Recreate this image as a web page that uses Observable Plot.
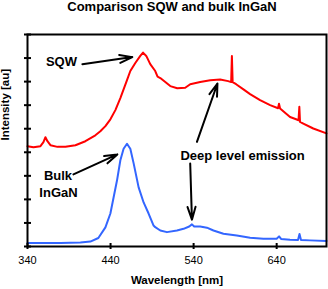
<!DOCTYPE html>
<html>
<head>
<meta charset="utf-8">
<script src="https://cdn.jsdelivr.net/npm/d3@7"></script>
<script src="https://cdn.jsdelivr.net/npm/@observablehq/plot@0.6"></script>
<style>
  html, body { margin: 0; padding: 0; background: #fff; }
  #wrap { width: 328px; height: 289px; overflow: hidden; font-family: "Liberation Sans", Arial, sans-serif; }
  #title { height: 16px; line-height: 13px; font-size: 13px; font-weight: bold; text-align: center; padding-left: 16px; box-sizing: border-box; color: #000; }
</style>
</head>
<body>
<div id="wrap">
  <div id="title">Comparison SQW and bulk InGaN</div>
  <div id="chart"></div>
</div>
<script>
// SQW spectrum (red)
const sqwWavelength = [340.0,347.2,355.6,359.2,361.6,364.0,367.6,376.1,385.7,397.7,409.7,421.7,427.7,433.8,439.8,445.8,451.8,459.8,463.8,469.8,475.8,479.1,483.0,487.8,493.8,496.6,499.9,505.9,511.9,520.3,529.9,535.9,547.9,560.0,572.0,581.6,585.2,586.1,587.0,591.2,600.0,608.0,620.0,632.1,641.7,642.8,644.1,656.1,664.2,666.3,667.3,668.1,672.1,684.1,700.0];
const sqwIntensity  = [4.26,4.21,4.26,4.43,4.64,4.47,4.30,4.23,4.23,4.30,4.47,4.72,4.89,5.11,5.40,5.79,6.30,7.06,7.45,7.79,8.09,8.23,8.09,7.74,7.45,7.21,7.15,6.98,6.81,6.72,6.74,6.89,6.98,7.06,7.09,7.02,6.98,8.09,6.98,6.89,6.67,6.47,6.21,6.00,5.87,6.06,5.86,5.50,5.39,5.36,5.93,5.29,5.22,5.01,4.80];

// Bulk InGaN spectrum (blue)
const bulkWavelength = [340,355.6,379.7,403.7,415.7,425.3,433.8,439.8,443.7,447.8,451.8,455.7,459.8,463.8,467.8,473.8,479.8,485.8,491.8,493.8,499.9,507.9,519.9,527.9,534.7,538,540.7,547.9,556,563.9,575.9,592,608,624,640,642.9,645.3,656.1,665.7,667.5,669.3,680,700];
const bulkIntensity  = [0.15,0.15,0.15,0.17,0.21,0.36,0.81,1.40,2.09,2.81,3.66,4.15,4.36,4.15,3.53,2.51,1.87,1.40,0.89,0.82,0.68,0.61,0.68,0.75,0.85,0.94,0.85,0.85,0.80,0.68,0.54,0.47,0.37,0.33,0.33,0.43,0.32,0.29,0.28,0.53,0.28,0.26,0.23];

// Axis ticks
const xTicks = [340, 440, 540, 640];
const yTicks = [0,1,2,3,4,5,6,7,8,9];

// Annotations (data coordinates)
const noteText = ["SQW", "Bulk", "InGaN", "Deep level emission"];
const noteX = [380.9, 376.7, 377.3, 599.0];
const noteY = [7.83, 2.98, 2.26, 3.87];

const arrowX1 = [406.1, 395.3, 544.0, 535.9];
const arrowY1 = [7.74, 3.06, 4.44, 3.52];
const arrowX2 = [466.2, 448.2, 568.7, 538.0];
const arrowY2 = [8.04, 3.91, 6.92, 1.14];

const sqw = sqwWavelength.map((w, i) => ({w, v: sqwIntensity[i]}));
const bulk = bulkWavelength.map((w, i) => ({w, v: bulkIntensity[i]}));
const notes = noteText.map((t, i) => ({t, x: noteX[i], y: noteY[i]}));
const arrows = arrowX1.map((x1, i) => ({x1, y1: arrowY1[i], x2: arrowX2[i], y2: arrowY2[i]}));

const W = 328, H = 273, mL = 27, mR = 2, mT = 18, mB = 43;
const frameW = W - mL - mR, frameH = H - mT - mB;

const chart = Plot.plot({
  width: W,
  height: H,
  marginLeft: mL,
  marginRight: mR,
  marginTop: mT,
  marginBottom: mB,
  style: {fontFamily: "'Liberation Sans', Arial, sans-serif", fontSize: "11px", background: "white", color: "black", overflow: "visible"},
  x: {domain: [340, 700], axis: null},
  y: {domain: [0, 9], axis: null},
  marks: [
    Plot.line(sqw, {x: "w", y: "v", stroke: "#ff0000", strokeWidth: 2, curve: "linear"}),
    Plot.line(bulk, {x: "w", y: "v", stroke: "#3366ff", strokeWidth: 2, curve: "linear"}),
    Plot.frame({stroke: "black", strokeWidth: 2}),
    // y ticks crossing the left axis (3px out, 4px in)
    Plot.tickY(yTicks, {y: d => d, stroke: "black", strokeWidth: 2, insetLeft: -3, insetRight: frameW - 4}),
    // x ticks crossing the bottom axis
    Plot.tickX(xTicks, {x: d => d, stroke: "black", strokeWidth: 2, insetTop: frameH - 3, insetBottom: -3}),
    Plot.axisX({ticks: xTicks, tickSize: 0, tickPadding: 10, fontSize: 11, label: null}),
    Plot.text(["Wavelength [nm]"], {frameAnchor: "bottom", dy: 37, text: d => d, fontWeight: "bold", fontSize: 11.5}),
    Plot.text(["Intensity [au]"], {frameAnchor: "left", dx: -22, rotate: -90, text: d => d, fontWeight: "bold", fontSize: 11.5}),
    Plot.arrow(arrows, {x1: "x1", y1: "y1", x2: "x2", y2: "y2", stroke: "black", strokeWidth: 2, headLength: 10, headAngle: 35}),
    Plot.text(notes, {x: "x", y: "y", text: "t", fontWeight: "bold", fontSize: 13, fill: "black"})
  ]
});
document.getElementById("chart").appendChild(chart);
</script>
</body>
</html>
